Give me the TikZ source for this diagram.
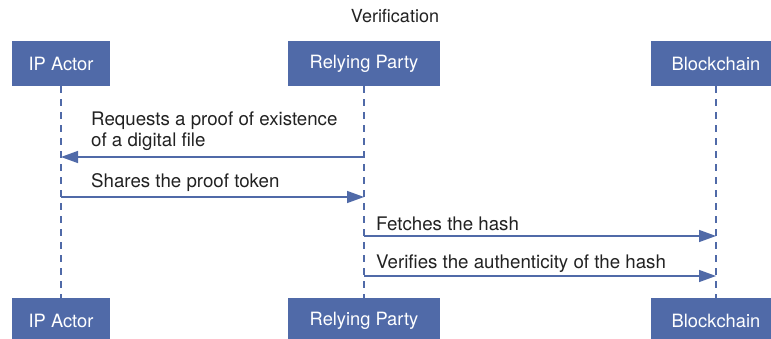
\documentclass[tikz,border=0pt]{standalone}
\usepackage{fontspec}
\setmainfont{TeX Gyre Heros}
\usepackage{xcolor}
\usepackage{tikz}
\usetikzlibrary{positioning}
\usetikzlibrary{arrows.meta}
\definecolor{seqblue}{RGB}{80,106,168}
\definecolor{seqtext}{RGB}{34,34,34}
\tikzstyle{actor}=[rectangle,fill=seqblue,text=white,minimum height=45pt,inner sep=0pt,font=\fontsize{18.3}{21}\selectfont]
\tikzstyle{lifeline} = [draw,seqblue,line width=1.2pt,dash pattern=on 7pt off 6pt]
\tikzstyle{msg} = [draw,seqblue,line width=1.4pt,-{Triangle[length=17pt,width=12pt]}]
\tikzstyle{msglabel} = [text=seqtext,inner sep=0pt,align=left,font=\fontsize{18.7}{20.7}\selectfont]

\begin{document}
\begin{tikzpicture}[x=1pt,y=-1pt]

  \useasboundingbox (0,0) rectangle (771,339);

  \node[text=seqtext,font=\fontsize{18}{21}\selectfont,anchor=base] (title) at (395,23) {Verification};

   \foreach \x/\w/\name/\label in {61/98/ip/IP Actor, 364/152/rp/Relying Party, 716/130/bc/Blockchain}
   {
          \node[actor,minimum width=\w pt] (\name T) at (\x,63.5) {\label};
          \node[actor,minimum width=\w pt] (\name B) at (\x,320.5) {\label};
          \path[lifeline] (\name T) -- (\name B);
   }

  % message ends on the lifelines
  \foreach \name/\y in {ip/157, rp/157, ip/197, rp/197}
         \coordinate (\name\y) at (\name T |- 0,\y);
  \foreach \name/\y in {rp/236, bc/236, rp/276, bc/276}
         \coordinate (\name\y) at (\name T |- 0,\y);

  \path[msg] (rp157) -- (ip157);
  \path[msg] (ip197) -- (rp197);
  \path[msg] (rp236) -- (bc236);
  \path[msg] (rp276) -- (bc276);

  % base of a two-line label is its last line
  \node[msglabel,anchor=base west] (req) at (91,146.7) {Requests a proof of existence\\of a digital file};
  \node[msglabel,anchor=base west] (share) at (91,188) {Shares the proof token};
  \node[msglabel,anchor=base west] (fetch) at (376,230.5) {Fetches the hash};
  \node[msglabel,anchor=base west] (verify) at (376,268) {Verifies the authenticity of the hash};

\end{tikzpicture}
\end{document}
